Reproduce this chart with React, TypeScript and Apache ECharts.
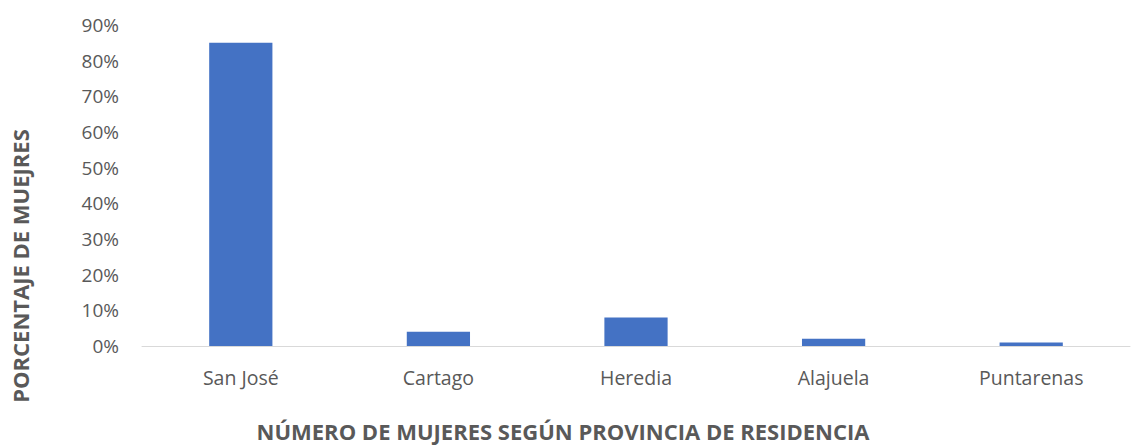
import React, { useEffect, useRef } from "react";
import * as echarts from "echarts";

const categories = ["San José", "Cartago", "Heredia", "Alajuela", "Puntarenas"];
const values = [0.85, 0.04, 0.08, 0.02, 0.01];
const yTitle = "PORCENTAJE DE MUEJRES";
const xTitle = "NÚMERO DE MUJERES SEGÚN PROVINCIA DE RESIDENCIA";

export default function App() {
  const ref = useRef<HTMLDivElement>(null);
  useEffect(() => {
    document.body.style.margin = "0";
    const chart = echarts.init(ref.current!, null, { renderer: "svg" });
    const font = "'Open Sans', 'Noto Sans', sans-serif";
    chart.setOption({
      animation: false,
      grid: { left: 142, right: 1, top: 25, bottom: 100, containLabel: false },
      xAxis: {
        type: "category",
        data: categories,
        axisLine: { lineStyle: { color: "#d9d9d9", width: 1 } },
        axisTick: { show: false },
        axisLabel: { color: "#595959", fontSize: 19.5, fontFamily: font, margin: 21 },
      },
      yAxis: {
        type: "value",
        min: 0,
        max: 0.9,
        interval: 0.1,
        splitLine: { show: false },
        axisLine: { show: false },
        axisTick: { show: false },
        axisLabel: {
          color: "#595959",
          fontSize: 19,
          fontFamily: font,
          margin: 23,
          formatter: (v: number) => Math.round(v * 100) + "%",
        },
      },
      series: [
        {
          type: "bar",
          data: values,
          barCategoryGap: "68%",
          itemStyle: { color: "#4472C4" },
        },
      ],
      graphic: [
        {
          type: "text",
          x: 563,
          y: 431,
          style: {
            text: xTitle,
            fill: "#595959",
            font: `bold 22px ${font}`,
            align: "center",
            verticalAlign: "middle",
          },
        },
        {
          type: "text",
          x: 20,
          y: 266,
          rotation: Math.PI / 2,
          style: {
            text: yTitle,
            fill: "#595959",
            font: `bold 22px ${font}`,
            align: "center",
            verticalAlign: "middle",
          },
        },
      ],
    });
    return () => chart.dispose();
  }, []);
  return <div ref={ref} style={{ width: 1131, height: 446 }} />;
}
